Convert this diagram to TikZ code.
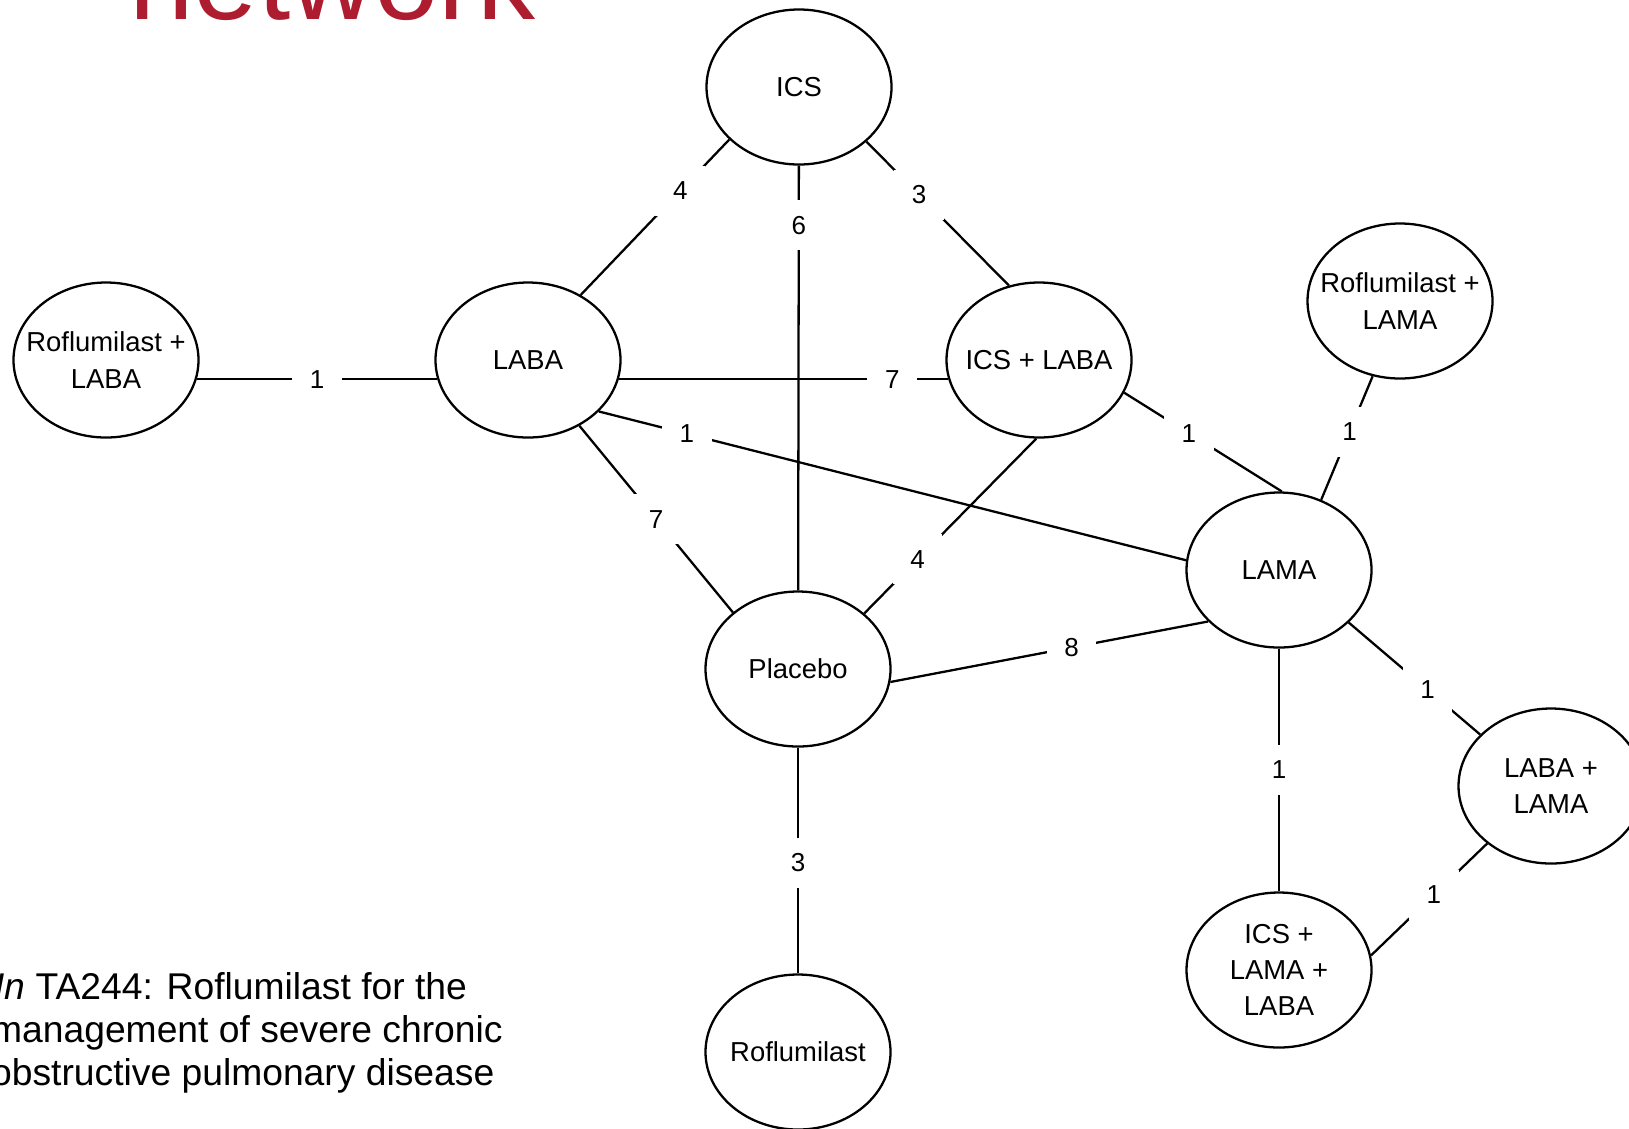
\documentclass[tikz,border=0pt]{standalone}
\usepackage{fontspec}
\setmainfont{Liberation Sans}
\usetikzlibrary{shapes.geometric}
\definecolor{slidered}{RGB}{174,28,47}

\begin{document}
\begin{tikzpicture}[-,line width=0.65pt,
  trt node/.style={ellipse,draw,minimum width=1.85cm,minimum height=1.55cm,
    inner xsep=-0.6cm,inner ysep=0pt,align=center,font=\fontsize{7.8}{10.3}\selectfont},
  num/.style={fill=white,inner xsep=5pt,inner ysep=4.5pt,font=\fontsize{7.4}{9}\selectfont},
  caption/.style={anchor=base west,inner sep=0pt,font=\fontsize{10.6}{12.2}\selectfont}]

  \useasboundingbox (0,0) rectangle (16.29,-11.28);

  \node[anchor=base west,inner sep=0pt,text=slidered,font=\fontsize{33}{38}\selectfont]
    (title) at (1.28,-0.19) {network};

  \node[trt node] (ICS) at (7.99,-0.87) {ICS};
  \node[trt node] (RofLABA) at (1.06,-3.60) {Roflumilast +\\LABA};
  \node[trt node] (LABA) at (5.28,-3.60) {LABA};
  \node[trt node] (ICSLABA) at (10.39,-3.60) {ICS + LABA};
  \node[trt node] (RofLAMA) at (14.00,-3.01) {Roflumilast +\\LAMA};
  \node[trt node] (LAMA) at (12.79,-5.70) {LAMA};
  \node[trt node] (Placebo) at (7.98,-6.69) {Placebo};
  \node[trt node] (LABALAMA) at (15.51,-7.86) {LABA +\\LAMA};
  \node[trt node] (ICSLAMALABA) at (12.79,-9.70) {ICS +\\LAMA +\\LABA};
  \node[trt node] (Rof) at (7.98,-10.52) {Roflumilast};

  \path
    (RofLABA.-12) edge node[num,pos=.5] (w1) {1} (LABA.192)
    (LABA.-12) edge node[num,pos=.83] (w2) {7} (ICSLABA.192)
    (LABA.51) edge node[num,pos=.67] (w3) {4} (ICS.217)
    (ICS) edge node[num,pos=.14] (w4) {6} (Placebo)
    (ICS.-39) edge node[num,pos=.37] (w5) {3} (ICSLABA.112)
    (LABA.-36) edge node[num,pos=.15] (w6) {1} (LAMA.174)
    (LABA.-52) edge node[num,pos=.5] (w7) {7} (Placebo.139)
    (ICSLABA.268) edge node[num,pos=.69] (w8) {4} (Placebo.40)
    (ICSLABA.-21) edge node[num,pos=.41] (w9) {1} (LAMA.88)
    (RofLAMA.250) edge node[num,pos=.45] (w10) {1} (LAMA.59)
    (Placebo.-8) edge node[num,pos=.57] (w11) {8} (LAMA.216)
    (LAMA.-37) edge node[num,pos=.6] (w12) {1} (LABALAMA.144)
    (LAMA) edge node[num,pos=.5] (w13) {1} (ICSLAMALABA)
    (LABALAMA.222) edge node[num,pos=.46] (w14) {1} (ICSLAMALABA.9)
    (Placebo) edge node[num,pos=.51] (w15) {3} (Rof);

  \node[caption] (cap1) at (-0.07,-9.99) {\textit{In} TA244: Roflumilast for the};
  \node[caption] (cap2) at (-0.10,-10.42) {management of severe chronic};
  \node[caption] (cap3) at (-0.10,-10.85) {obstructive pulmonary disease};

\end{tikzpicture}
\end{document}
